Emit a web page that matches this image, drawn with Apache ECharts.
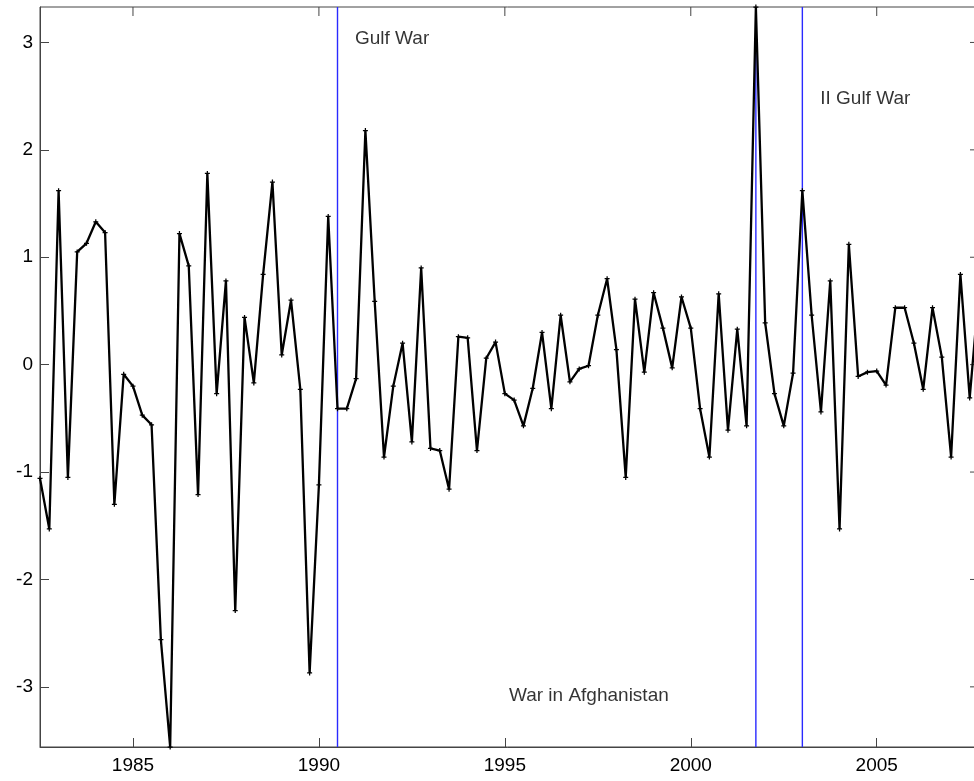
<!DOCTYPE html>
<html>
<head>
<meta charset="utf-8">
<script src="https://cdn.jsdelivr.net/npm/echarts@6/dist/echarts.min.js"></script>
<style>
  html, body { margin: 0; padding: 0; background: #fff; }
  #chart { width: 974px; height: 781px; }
</style>
</head>
<body>
<div id="chart"></div>
<script>
// Quarterly series, first observation 1982 Q3 (1982.5), one value per quarter
const firstQuarter = 1982.5;
const quarterStep = 0.25;
const values = [
  -1.06, -1.53, 1.62, -1.05, 1.05, 1.13, 1.33, 1.23, -1.30, -0.09,
  -0.20, -0.47, -0.56, -2.56, -3.56, 1.22, 0.92, -1.21, 1.78, -0.27,
  0.78, -2.29, 0.44, -0.17, 0.84, 1.70, 0.09, 0.60, -0.23, -2.87,
  -1.12, 1.38, -0.41, -0.41, -0.13, 2.18, 0.59, -0.86, -0.20, 0.20,
  -0.72, 0.90, -0.78, -0.80, -1.16, 0.26, 0.25, -0.80, 0.06, 0.21,
  -0.27, -0.33, -0.57, -0.22, 0.30, -0.41, 0.46, -0.16, -0.04, -0.01,
  0.46, 0.80, 0.14, -1.05, 0.61, -0.07, 0.67, 0.34, -0.03, 0.63,
  0.34, -0.41, -0.86, 0.66, -0.61, 0.33, -0.57, 3.33, 0.39, -0.27,
  -0.57, -0.08, 1.62, 0.46, -0.44, 0.78, -1.53, 1.12, -0.11, -0.07,
  -0.06, -0.19, 0.53, 0.53, 0.20, -0.23, 0.53, 0.07, -0.86, 0.84,
  -0.31, 0.70
];

// Event dates (vertical markers)
const eventDates = [1990.5, 2001.75, 2003.0];

// Event captions: [year, value, text]
const eventLabels = [
  [1990.97, 3.03, 'Gulf War'],
  [2003.48, 2.48, 'II Gulf War'],
  [1995.11, -3.08, 'War in Afghanistan']
];

// Axis tick labels
const xTicks = [1985, 1990, 1995, 2000, 2005];
const yTicks = [-3, -2, -1, 0, 1, 2, 3];

const seriesData = values.map((v, i) => [firstQuarter + i * quarterStep, v]);
const lastYear = firstQuarter + (values.length - 1) * quarterStep;
const yLow = Math.min(...values);
const yHigh = Math.max(...values);

const FONT = '"Liberation Sans", Arial, sans-serif';
const axisColor = '#444';
const tickLen = 9;

// Mirrored ticks on the top and right edges of the box: [x, y, side]
const mirrorTicks = xTicks.map(t => [t, yHigh, 0]).concat(yTicks.map(t => [lastYear, t, 1]));

// One vertical segment per event, spanning the full value range
const eventSeries = eventDates.map(d => ({
  type: 'line',
  data: [[d, yLow], [d, yHigh]],
  symbol: 'none',
  silent: true,
  z: 2,
  lineStyle: { color: '#2a2aff', width: 1.4 }
}));

const chart = echarts.init(document.getElementById('chart'), null, { renderer: 'canvas' });

chart.setOption({
  animation: false,
  backgroundColor: '#fff',
  grid: {
    show: true, borderColor: axisColor, borderWidth: 1, backgroundColor: 'transparent',
    left: 40, top: 7, width: 939, height: 740, containLabel: false, outerBoundsMode: 'none'
  },
  xAxis: {
    type: 'value', position: 'bottom', min: firstQuarter, max: lastYear,
    splitLine: { show: false },
    axisLine: { show: true, onZero: false, lineStyle: { color: axisColor, width: 1 } },
    axisTick: { show: true, inside: true, length: tickLen, customValues: xTicks, lineStyle: { color: axisColor } },
    axisLabel: { show: true, customValues: xTicks, color: '#000', fontFamily: FONT, fontSize: 19, margin: 9, formatter: v => String(v) }
  },
  yAxis: {
    type: 'value', position: 'left', min: yLow, max: yHigh,
    splitLine: { show: false },
    axisLine: { show: true, onZero: false, lineStyle: { color: axisColor, width: 1 } },
    axisTick: { show: true, inside: true, length: tickLen, customValues: yTicks, lineStyle: { color: axisColor } },
    axisLabel: { show: true, customValues: yTicks, color: '#000', fontFamily: FONT, fontSize: 19, margin: 7, formatter: v => String(v) }
  },
  series: eventSeries.concat([
    {
      type: 'custom',
      data: mirrorTicks,
      silent: true,
      z: 1,
      renderItem: (params, api) => {
        const p = api.coord([api.value(0), api.value(1)]);
        const top = api.value(2) === 0;
        return {
          type: 'line',
          shape: top
            ? { x1: p[0], y1: p[1], x2: p[0], y2: p[1] + tickLen }
            : { x1: p[0] - tickLen, y1: p[1], x2: p[0], y2: p[1] },
          style: { stroke: axisColor, lineWidth: 1 }
        };
      }
    },
    {
      type: 'line',
      data: seriesData,
      symbol: 'path://M-1,-4H1V-1H4V1H1V4H-1V1H-4V-1H-1Z',
      symbolSize: 5,
      showSymbol: true,
      itemStyle: { color: '#000' },
      lineStyle: { color: '#000', width: 2.3 },
      z: 3
    },
    {
      type: 'scatter',
      data: eventLabels,
      symbolSize: 0,
      silent: true,
      z: 4,
      label: {
        show: true,
        position: 'right',
        distance: 0,
        color: '#000',
        fontFamily: FONT,
        fontSize: 19,
        formatter: p => p.data[2]
      }
    }
  ])
});
</script>
</body>
</html>
